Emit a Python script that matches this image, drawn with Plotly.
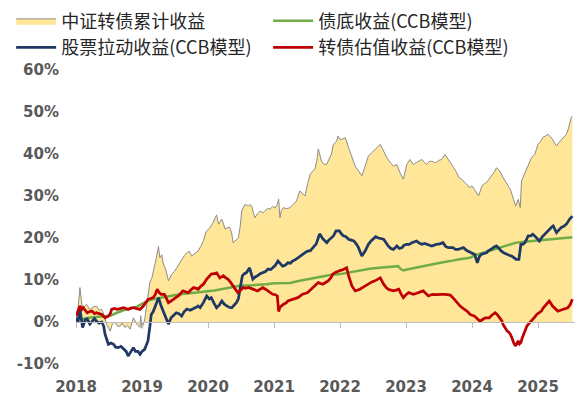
import plotly.graph_objects as go

# ---------------- data (decimal years, percent) ----------------
total_x = [2018.00,2018.03,2018.06,2018.09,2018.11,2018.16,2018.21,2018.26,2018.31,2018.35,2018.39,2018.43,2018.46,2018.52,2018.55,2018.59,2018.63,2018.67,2018.70,2018.74,2018.78,2018.82,2018.87,2018.90,2018.92,2018.97,2018.98,2019.00,2019.04,2019.08,2019.12,2019.15,2019.19,2019.22,2019.25,2019.27,2019.30,2019.32,2019.36,2019.40,2019.45,2019.49,2019.53,2019.57,2019.60,2019.64,2019.68,2019.72,2019.75,2019.80,2019.85,2019.89,2019.93,2019.97,2020.00,2020.03,2020.07,2020.11,2020.13,2020.16,2020.21,2020.26,2020.30,2020.33,2020.36,2020.38,2020.42,2020.46,2020.49,2020.51,2020.56,2020.61,2020.64,2020.66,2020.71,2020.75,2020.79,2020.83,2020.86,2020.90,2020.94,2020.98,2021.02,2021.05,2021.07,2021.09,2021.11,2021.14,2021.19,2021.24,2021.29,2021.34,2021.39,2021.43,2021.47,2021.51,2021.55,2021.59,2021.62,2021.65,2021.67,2021.70,2021.72,2021.76,2021.80,2021.84,2021.87,2021.90,2021.95,2021.97,2022.00,2022.03,2022.08,2022.13,2022.18,2022.23,2022.28,2022.33,2022.38,2022.43,2022.48,2022.53,2022.57,2022.61,2022.66,2022.71,2022.76,2022.81,2022.86,2022.91,2022.96,2023.01,2023.06,2023.11,2023.16,2023.20,2023.24,2023.28,2023.31,2023.35,2023.39,2023.43,2023.46,2023.50,2023.54,2023.59,2023.63,2023.67,2023.72,2023.77,2023.80,2023.84,2023.88,2023.92,2023.96,2024.00,2024.04,2024.07,2024.10,2024.15,2024.19,2024.22,2024.26,2024.30,2024.34,2024.37,2024.42,2024.47,2024.53,2024.58,2024.63,2024.66,2024.70,2024.73,2024.75,2024.80,2024.85,2024.90,2024.95,2025.00,2025.04,2025.07,2025.11,2025.15,2025.20,2025.24,2025.28,2025.32,2025.36,2025.40,2025.43,2025.46,2025.48,2025.50,2025.52]
total_y = [0.0,3.0,8.2,4.0,3.4,4.2,3.0,3.6,3.8,2.8,3.0,1.5,-0.5,-2.2,-0.5,0.0,-1.0,-1.0,-0.3,-1.3,-0.8,-1.7,1.0,0.0,-0.5,-1.3,1.5,-1.5,0.5,5.0,9.5,10.5,13.0,15.5,18.0,15.3,16.0,14.0,12.5,9.8,11.4,12.0,13.0,14.0,15.0,15.8,16.5,16.8,15.7,16.2,16.9,18.0,19.3,21.5,22.0,22.5,23.5,24.8,25.5,23.3,24.5,22.1,22.5,22.5,21.0,18.9,19.5,20.0,23.0,26.4,28.0,27.6,28.0,27.6,24.8,25.8,26.4,26.0,26.4,27.0,26.9,27.5,27.2,28.0,29.3,24.8,26.5,27.2,27.0,27.2,28.0,28.8,31.2,30.5,30.0,33.0,35.2,36.0,36.4,38.5,41.2,39.5,38.3,37.5,37.6,39.0,40.0,42.3,43.1,44.3,43.5,43.5,43.9,41.5,39.1,37.1,36.0,34.8,37.1,39.5,40.3,41.1,41.5,42.3,40.7,39.1,38.0,37.1,37.5,35.5,34.0,37.5,38.7,37.5,38.0,38.4,38.7,38.0,37.5,38.2,38.3,38.0,38.0,38.5,38.7,39.9,39.0,38.0,36.8,35.5,34.4,34.0,33.5,32.8,32.0,32.4,31.5,30.8,30.0,32.4,33.0,33.2,34.0,34.8,35.8,36.7,36.0,34.4,32.8,31.6,29.2,27.6,29.2,27.2,33.6,35.5,37.5,39.1,39.9,42.3,43.0,43.9,44.3,44.7,43.9,43.0,41.9,42.8,43.5,44.0,44.7,46.0,47.5,48.6,49.0]

bond_x = [2018.00,2018.10,2018.20,2018.30,2018.42,2018.52,2018.62,2018.72,2018.82,2018.92,2019.02,2019.12,2019.22,2019.32,2019.42,2019.53,2019.65,2019.77,2019.88,2020.00,2020.10,2020.20,2020.30,2020.38,2020.50,2020.62,2020.75,2020.88,2021.00,2021.12,2021.24,2021.39,2021.55,2021.70,2021.85,2022.00,2022.15,2022.30,2022.45,2022.60,2022.75,2022.88,2022.92,2022.96,2023.05,2023.20,2023.36,2023.52,2023.67,2023.79,2023.97,2024.05,2024.17,2024.30,2024.42,2024.55,2024.67,2024.80,2024.92,2025.05,2025.17,2025.35,2025.52]
bond_y = [0.5,0.8,1.0,1.2,1.3,1.5,2.2,2.8,3.2,3.6,4.5,5.2,5.6,5.9,6.2,6.5,6.7,6.9,7.0,7.3,7.5,7.8,8.1,8.5,8.7,8.7,8.8,9.0,9.2,9.3,9.3,9.8,10.3,10.8,11.2,11.4,11.8,12.3,12.7,12.9,13.1,13.3,12.6,12.3,12.6,13.1,13.7,14.1,14.5,14.9,15.3,15.9,16.5,17.1,17.7,18.3,18.9,19.1,19.3,19.5,19.7,20.0,20.2]

stock_x = [2018.00,2018.03,2018.06,2018.08,2018.10,2018.14,2018.17,2018.21,2018.24,2018.28,2018.31,2018.35,2018.39,2018.42,2018.44,2018.47,2018.49,2018.53,2018.57,2018.60,2018.64,2018.68,2018.72,2018.76,2018.79,2018.83,2018.87,2018.90,2018.94,2018.97,2019.00,2019.04,2019.07,2019.09,2019.12,2019.14,2019.17,2019.20,2019.25,2019.29,2019.34,2019.37,2019.40,2019.44,2019.48,2019.52,2019.56,2019.60,2019.64,2019.68,2019.73,2019.78,2019.82,2019.85,2019.88,2019.93,2019.98,2020.02,2020.05,2020.09,2020.13,2020.17,2020.21,2020.25,2020.28,2020.32,2020.36,2020.40,2020.43,2020.46,2020.48,2020.52,2020.55,2020.58,2020.63,2020.68,2020.72,2020.75,2020.79,2020.83,2020.87,2020.91,2020.95,2020.98,2021.02,2021.06,2021.10,2021.13,2021.17,2021.21,2021.25,2021.28,2021.32,2021.36,2021.40,2021.43,2021.47,2021.51,2021.55,2021.59,2021.64,2021.67,2021.69,2021.74,2021.80,2021.83,2021.86,2021.90,2021.94,2021.99,2022.02,2022.05,2022.09,2022.13,2022.17,2022.21,2022.25,2022.28,2022.31,2022.33,2022.38,2022.43,2022.47,2022.50,2022.54,2022.58,2022.62,2022.66,2022.70,2022.73,2022.77,2022.81,2022.86,2022.90,2022.94,2022.97,2023.01,2023.05,2023.09,2023.12,2023.16,2023.20,2023.24,2023.28,2023.31,2023.35,2023.39,2023.43,2023.46,2023.51,2023.56,2023.60,2023.64,2023.67,2023.71,2023.75,2023.79,2023.83,2023.87,2023.92,2023.97,2024.01,2024.04,2024.08,2024.11,2024.14,2024.18,2024.22,2024.25,2024.29,2024.33,2024.37,2024.41,2024.44,2024.48,2024.52,2024.56,2024.60,2024.64,2024.67,2024.71,2024.74,2024.77,2024.80,2024.83,2024.85,2024.89,2024.92,2024.95,2024.98,2025.02,2025.06,2025.10,2025.14,2025.17,2025.20,2025.23,2025.28,2025.31,2025.35,2025.39,2025.43,2025.48,2025.52]
stock_y = [1.0,0.0,3.0,1.0,-1.3,0.5,0.7,-0.5,0.0,0.8,0.2,-0.3,0.0,-1.0,-2.9,-4.5,-5.3,-5.0,-5.3,-6.0,-6.1,-5.8,-6.5,-7.0,-8.1,-7.0,-6.1,-7.0,-7.0,-7.7,-7.0,-6.5,-5.5,-4.5,-1.0,1.8,2.5,3.8,5.8,3.8,1.8,0.5,-0.5,1.0,1.5,2.2,2.0,1.4,2.5,3.1,2.8,3.1,3.5,3.8,3.4,4.6,6.2,5.5,5.8,4.5,3.4,4.0,5.0,4.2,3.8,3.5,3.4,4.0,4.6,5.5,7.4,11.0,11.5,11.7,12.9,10.2,10.8,11.0,11.5,11.7,12.0,12.6,12.5,12.9,13.5,14.5,13.8,13.3,13.5,14.1,14.0,14.5,14.8,15.3,15.8,16.2,16.5,16.9,17.0,17.7,18.6,20.0,21.0,19.8,18.9,19.5,20.0,20.5,21.7,21.7,21.0,20.5,20.3,19.7,19.5,19.3,18.5,17.7,16.5,15.7,16.9,18.5,19.3,19.7,20.3,20.0,19.8,19.7,18.8,18.1,17.5,17.3,18.1,17.5,17.7,18.3,18.5,18.5,18.9,19.0,19.3,18.8,18.5,18.7,18.5,18.2,18.1,18.3,18.5,18.6,18.9,18.0,17.7,17.7,17.7,17.3,17.3,17.5,17.7,17.0,16.5,16.3,16.1,14.1,15.5,16.1,16.3,16.5,17.0,17.3,17.8,18.1,17.5,16.9,16.5,16.1,15.9,15.7,15.3,14.9,14.9,18.5,18.5,18.9,19.8,20.5,20.5,20.9,20.5,20.0,19.3,20.2,20.9,21.5,22.1,22.5,22.9,21.3,21.8,22.5,22.8,23.3,24.5,25.2]

value_x = [2018.00,2018.03,2018.06,2018.09,2018.11,2018.14,2018.17,2018.21,2018.24,2018.28,2018.31,2018.35,2018.39,2018.44,2018.49,2018.52,2018.54,2018.58,2018.62,2018.67,2018.72,2018.76,2018.79,2018.83,2018.87,2018.92,2018.97,2019.02,2019.06,2019.09,2019.13,2019.17,2019.20,2019.23,2019.26,2019.29,2019.34,2019.37,2019.40,2019.44,2019.47,2019.51,2019.55,2019.58,2019.62,2019.66,2019.70,2019.74,2019.78,2019.82,2019.85,2019.89,2019.93,2019.98,2020.02,2020.05,2020.09,2020.13,2020.18,2020.23,2020.27,2020.30,2020.34,2020.38,2020.42,2020.45,2020.49,2020.53,2020.57,2020.61,2020.65,2020.68,2020.72,2020.75,2020.79,2020.83,2020.87,2020.91,2020.95,2020.98,2021.02,2021.05,2021.07,2021.09,2021.14,2021.18,2021.21,2021.25,2021.28,2021.32,2021.36,2021.40,2021.43,2021.47,2021.51,2021.55,2021.59,2021.63,2021.67,2021.70,2021.74,2021.78,2021.82,2021.86,2021.89,2021.93,2021.97,2022.01,2022.05,2022.10,2022.13,2022.16,2022.18,2022.23,2022.27,2022.30,2022.34,2022.38,2022.42,2022.45,2022.49,2022.53,2022.57,2022.61,2022.64,2022.66,2022.70,2022.73,2022.77,2022.81,2022.85,2022.89,2022.92,2022.96,2023.00,2023.04,2023.08,2023.11,2023.15,2023.19,2023.23,2023.26,2023.30,2023.34,2023.38,2023.41,2023.45,2023.49,2023.54,2023.59,2023.63,2023.67,2023.71,2023.74,2023.78,2023.82,2023.85,2023.89,2023.93,2023.97,2024.01,2024.04,2024.08,2024.12,2024.16,2024.20,2024.23,2024.26,2024.30,2024.35,2024.38,2024.42,2024.45,2024.47,2024.50,2024.53,2024.56,2024.58,2024.61,2024.63,2024.66,2024.68,2024.70,2024.72,2024.74,2024.76,2024.78,2024.81,2024.83,2024.86,2024.90,2024.94,2024.98,2025.01,2025.05,2025.08,2025.12,2025.17,2025.22,2025.26,2025.30,2025.34,2025.37,2025.41,2025.45,2025.49,2025.52]
value_y = [1.4,2.5,3.8,3.0,3.4,2.8,2.2,2.5,2.6,2.0,2.2,2.0,1.8,1.0,1.4,2.0,3.0,3.2,3.0,3.2,3.4,3.2,3.0,3.3,3.4,3.2,3.0,3.8,4.8,5.4,5.6,5.8,6.5,7.8,7.0,6.6,6.6,5.5,4.6,5.0,5.4,5.8,6.2,6.8,7.4,7.2,7.0,7.6,8.2,8.0,7.8,8.5,9.0,10.2,10.8,11.4,11.5,11.7,10.5,11.0,10.5,10.2,9.5,8.6,7.8,7.0,7.5,8.2,8.0,8.2,8.0,7.8,7.6,7.4,7.8,8.2,7.8,7.4,7.0,6.6,6.5,6.2,2.5,3.5,4.2,4.5,5.0,5.2,5.4,5.6,5.8,6.2,6.6,6.8,7.0,7.6,8.2,8.8,9.4,9.2,9.0,9.4,9.8,10.5,11.4,11.8,12.1,12.3,12.5,12.9,11.0,9.5,8.6,7.4,7.6,7.8,8.2,8.6,9.0,9.4,9.6,9.8,10.2,10.5,9.6,9.0,8.2,7.8,7.6,7.4,7.6,7.8,6.8,5.8,6.5,7.0,6.8,6.6,6.8,7.0,7.2,7.4,6.8,6.2,6.5,6.6,6.5,6.6,6.6,6.6,6.5,6.4,5.8,5.2,4.5,3.8,3.4,3.0,2.5,1.8,1.6,1.4,0.8,0.2,0.6,1.0,1.0,1.0,1.6,2.2,1.8,1.0,0.3,-0.6,-1.4,-2.1,-2.5,-2.9,-4.0,-4.9,-5.7,-5.0,-4.5,-5.2,-4.9,-3.8,-2.9,-1.8,-1.0,-0.4,0.2,1.0,1.8,2.2,2.6,3.4,4.2,5.0,3.8,3.2,2.6,2.8,3.0,3.2,3.4,4.2,5.4]

year_ticks = [2018, 2019, 2020, 2021, 2022, 2023, 2024, 2025]
year_labels = ["2018", "2019", "2020", "2021", "2022", "2023", "2024", "2025"]
pct_ticks = [-10, 0, 10, 20, 30, 40, 50, 60]
pct_labels = ["-10%", "0%", "10%", "20%", "30%", "40%", "50%", "60%"]

names = ["中证转债累计收益", "债底收益(CCB模型)", "股票拉动收益(CCB模型)", "转债估值收益(CCB模型)"]

# ---------------- figure ----------------
fig = go.Figure()
fig.add_trace(go.Scatter(x=total_x, y=total_y, name=names[0], mode="lines",
                         fill="tozeroy", fillcolor="#FFE699",
                         line=dict(color="#8C8C8C", width=1)))
fig.add_trace(go.Scatter(x=bond_x, y=bond_y, name=names[1], mode="lines",
                         line=dict(color="#70AD47", width=2.5)))
fig.add_trace(go.Scatter(x=stock_x, y=stock_y, name=names[2], mode="lines",
                         line=dict(color="#1F3864", width=2.75)))
fig.add_trace(go.Scatter(x=value_x, y=value_y, name=names[3], mode="lines",
                         line=dict(color="#C00000", width=2.75)))
# helper trace for the axis drawn at zero
fig.add_trace(go.Scatter(x=[], y=[], xaxis="x2", yaxis="y", showlegend=False,
                         hoverinfo="skip"))

tickfont = dict(family="DejaVu Sans", size=15, color="#595959", weight="bold")

# the page body adds an 8px offset, so the figure is 8px smaller than the window
fig.update_layout(
    width=580, height=391,
    margin=dict(l=68, r=13, t=62, b=35, autoexpand=False),
    paper_bgcolor="white", plot_bgcolor="white",
    showlegend=True,
    legend=dict(orientation="h", xref="paper", yref="paper",
                x=-0.130, y=1.229, xanchor="left", yanchor="top",
                font=dict(family="Noto Sans CJK SC", size=18, color="#262626"),
                entrywidthmode="pixels", entrywidth=202,
                bgcolor="rgba(0,0,0,0)", itemwidth=40, tracegroupgap=0),
    xaxis=dict(range=[2018, 2025.56], tickvals=year_ticks, ticktext=year_labels,
               showgrid=False, zeroline=False, showline=False, ticks="",
               tickfont=tickfont, ticklabelstandoff=12),
    xaxis2=dict(range=[2018, 2025.56], overlaying="x", anchor="free",
                position=10 / 70, side="bottom", tickvals=year_ticks,
                showticklabels=False, ticks="outside", ticklen=5,
                tickcolor="#BFBFBF", showgrid=False, zeroline=False,
                showline=True, linecolor="#BFBFBF", linewidth=1,
                layer="above traces"),
    yaxis=dict(range=[-10, 60], tickvals=pct_ticks, ticktext=pct_labels,
               showgrid=False, zeroline=False, showline=False, ticks="",
               tickfont=tickfont, ticklabelstandoff=16),
)

fig.write_html("out.html")
